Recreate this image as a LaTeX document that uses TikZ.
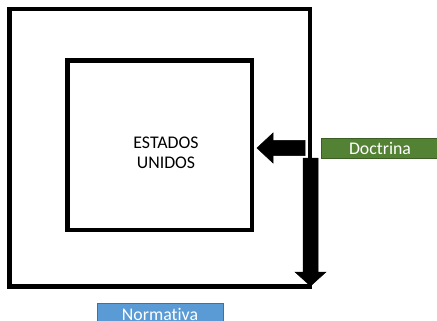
\documentclass[tikz,border=0pt]{standalone}
\usepackage{fontspec}
\setmainfont[Ligatures=NoCommon]{Carlito}
\definecolor{docgreen}{HTML}{548235}
\definecolor{docgreenb}{HTML}{3B5E25}
\definecolor{normblue}{HTML}{5B9BD5}
\definecolor{normblueb}{HTML}{41719C}
\tikzset{
  frame/.style={draw=black,line width=4.5pt},
  bigarrow/.style={fill=black,draw=black,line width=0.5pt},
  labelbox/.style={draw,line width=1pt,inner sep=0pt,text=white,font=\fontsize{17.5}{20}\selectfont},
}
\begin{document}
\begin{tikzpicture}[x=1pt,y=-1pt]
\useasboundingbox (0,0) rectangle (437,321);
\clip (0,0) rectangle (437,321);
\fill[white] (0,0) rectangle (437,321);
% outer and inner frames
\draw[frame] (9.5,9) rectangle (310,286.5);
\draw[frame] (67.5,60.5) rectangle (252,230);
% text
\node[align=center,font=\fontsize{17.8}{20}\selectfont] (us) at (166,153) {ESTADOS\\UNIDOS};
% left arrow
\fill[bigarrow] (305,140.5) -- (273,140.5) -- (273,133) -- (257,148) -- (273,163) -- (273,155.5) -- (305,155.5) -- cycle;
% down arrow
\fill[bigarrow] (303,158) -- (318,158) -- (318,272) -- (326,272) -- (310.5,286) -- (295,272) -- (303,272) -- cycle;
% label boxes
\node[labelbox,fill=docgreen,draw=docgreenb,minimum width=130pt,minimum height=20pt,anchor=north west] (doc) at (320.5,138) {};
\node[text=white,font=\fontsize{17.8}{20}\selectfont] (doct) at (380,148) {Doctrina};
\node[labelbox,fill=normblue,draw=normblueb,minimum width=126pt,minimum height=25pt,anchor=north west] (norm) at (97,303) {};
\node[text=white,font=\fontsize{17.8}{20}\selectfont] (normt) at (160,314) {Normativa};
\end{tikzpicture}
\end{document}
